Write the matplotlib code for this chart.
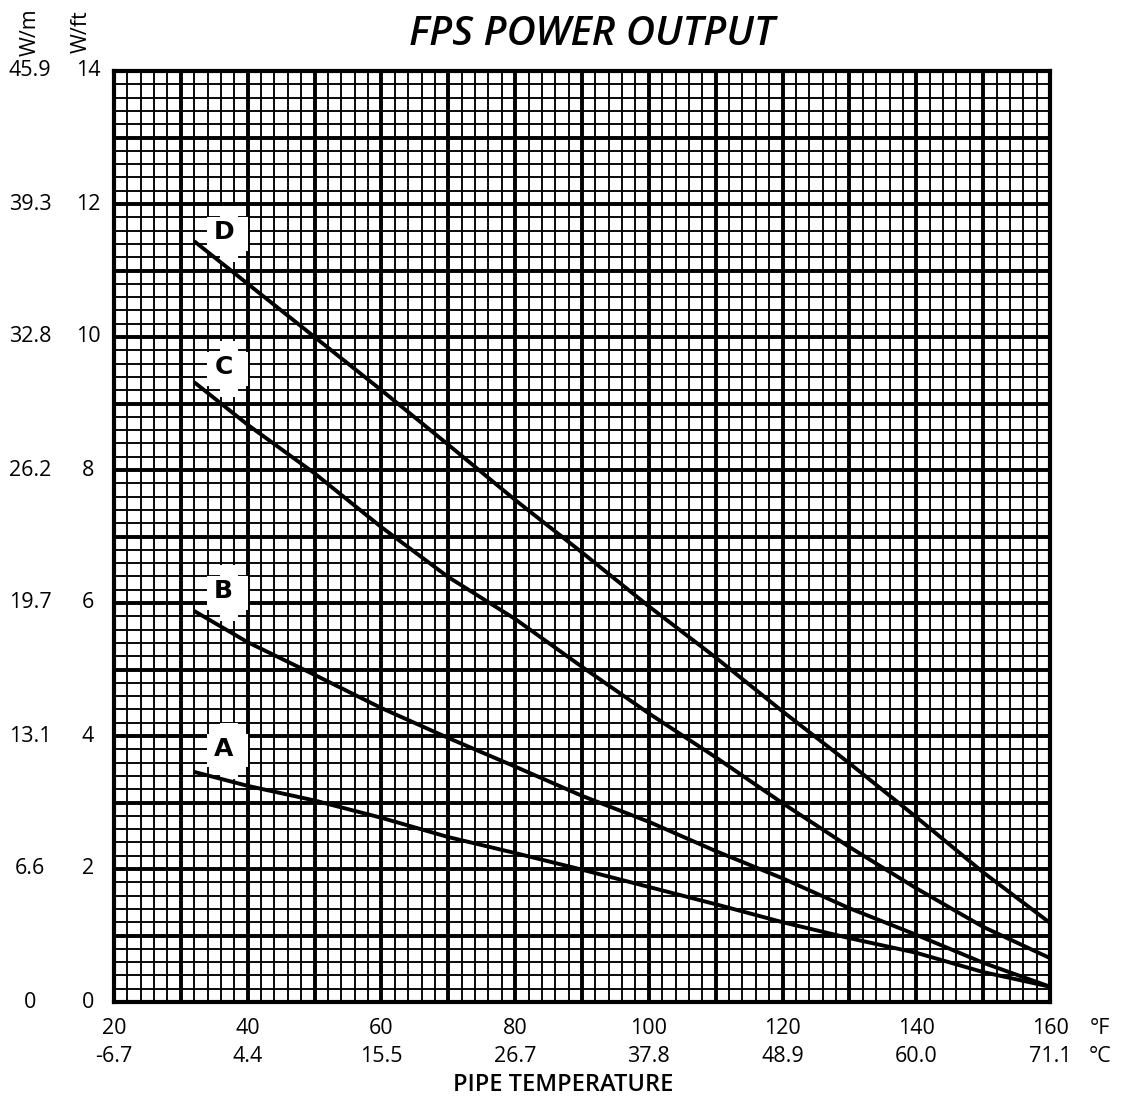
import numpy as np
import matplotlib
matplotlib.use("Agg")
import matplotlib.pyplot as plt
from matplotlib.patches import Rectangle
import matplotlib.transforms as mtransforms

# pipe temperature (F) and power output (W/ft)
temps = [32, 40, 50, 60, 70, 80, 90, 100, 110, 120, 130, 140, 150, 160]
curve_a = [3.46, 3.25, 3.03, 2.77, 2.48, 2.24, 1.99, 1.73, 1.47, 1.20, 0.96, 0.74, 0.45, 0.23]
curve_b = [5.88, 5.41, 4.92, 4.42, 3.97, 3.54, 3.10, 2.71, 2.27, 1.86, 1.41, 1.01, 0.59, 0.23]
curve_c = [9.32, 8.68, 7.95, 7.14, 6.39, 5.76, 5.04, 4.34, 3.68, 2.99, 2.33, 1.71, 1.13, 0.66]
curve_d = [11.44, 10.80, 10.00, 9.20, 8.38, 7.55, 6.76, 5.95, 5.18, 4.37, 3.59, 2.78, 1.95, 1.19]
curve_names = ['A', 'B', 'C', 'D']
label_y = [3.78, 6.15, 9.52, 11.55]

f_ticks = [20, 40, 60, 80, 100, 120, 140, 160]
c_labels = ['-6.7', '4.4', '15.5', '26.7', '37.8', '48.9', '60.0', '71.1']
wft_ticks = [0, 2, 4, 6, 8, 10, 12, 14]
wm_labels = ['0', '6.6', '13.1', '19.7', '26.2', '32.8', '39.3', '45.9']

FONT = 'Open Sans'
TS = 15.5

fig = plt.figure(figsize=(11.23, 10.99), dpi=100)
ax = fig.add_axes([114 / 1123, 1 - 1002 / 1099, (1050 - 114) / 1123, (1002 - 71) / 1099])

ax.set_xlim(20, 160)
ax.set_ylim(0, 14)
ax.set_xticks(np.arange(20, 161, 10))
ax.set_xticks(np.arange(20, 161, 2), minor=True)
ax.set_yticks(np.arange(0, 15, 1))
ax.set_yticks(np.arange(0, 14.01, 0.2), minor=True)
ax.grid(which='major', color='black', linewidth=2.8)
ax.grid(which='minor', color='black', linewidth=1.35)
ax.tick_params(which='both', length=0, labelbottom=False, labelleft=False)
for s in ax.spines.values():
    s.set_linewidth(3)
ax.set_axisbelow(True)

for vals in [curve_a, curve_b, curve_c, curve_d]:
    ax.plot(temps, vals, color='black', linewidth=2.8, zorder=5, solid_capstyle='butt')

# white cross behind each curve letter
for name, yy in zip(curve_names, label_y):
    ax.add_patch(Rectangle((33.9, yy - 0.25), 6.1, 0.5, facecolor='white', edgecolor='none', zorder=3))
    ax.add_patch(Rectangle((35.9, yy - 0.42), 2.6, 0.84, facecolor='white', edgecolor='none', zorder=3))
    ax.text(36.4, yy + 0.03, name, ha='center', va='center', fontsize=18, fontweight='heavy',
            family='DejaVu Sans', zorder=6)

# y labels (two columns)
trans_y = mtransforms.blended_transform_factory(fig.transFigure, ax.transData)
for v, wm in zip(wft_ticks, wm_labels):
    ax.text(88 / 1123, v, str(v), transform=trans_y, ha='center', va='center', fontsize=TS, family=FONT)
    ax.text(30 / 1123, v, wm, transform=trans_y, ha='center', va='center', fontsize=TS, family=FONT)

# x labels (F and C rows)
trans_x = mtransforms.blended_transform_factory(ax.transData, fig.transFigure)
for v, c in zip(f_ticks, c_labels):
    ax.text(v, 1 - 1029 / 1099, str(v), transform=trans_x, ha='center', va='center', fontsize=TS, family=FONT)
    ax.text(v, 1 - 1057 / 1099, c, transform=trans_x, ha='center', va='center', fontsize=TS, family=FONT)

fig.text(1100 / 1123, 1 - 1029 / 1099, '°F', ha='center', va='center', fontsize=TS, family=FONT)
fig.text(1100 / 1123, 1 - 1057 / 1099, '°C', ha='center', va='center', fontsize=TS, family=FONT)

fig.text(30 / 1123, 1 - 32 / 1099, 'W/m', rotation=90, ha='center', va='center', fontsize=TS, family=FONT)
fig.text(81 / 1123, 1 - 32 / 1099, 'W/ft', rotation=90, ha='center', va='center', fontsize=TS, family=FONT)

fig.text(592 / 1123, 1 - 35 / 1099, 'FPS POWER OUTPUT', ha='center', va='center', fontsize=29,
         fontweight='semibold', fontstyle='italic', family=FONT)
fig.text(563 / 1123, 1 - 1085 / 1099, 'PIPE TEMPERATURE', ha='center', va='center', fontsize=17,
         fontweight='semibold', family=FONT)

fig.savefig('out.png', dpi=100, facecolor='white')
